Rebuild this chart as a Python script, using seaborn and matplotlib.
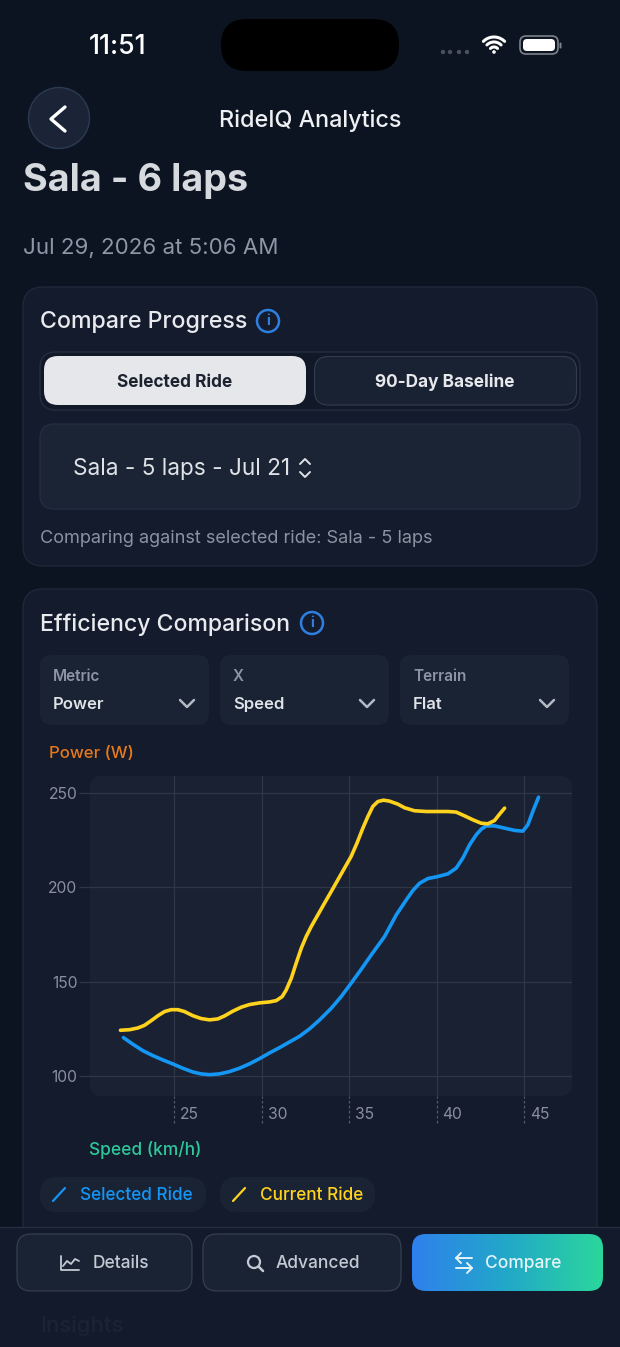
import numpy as np
import pandas as pd
import matplotlib
matplotlib.use("Agg")
import matplotlib.pyplot as plt
from matplotlib.patches import FancyBboxPatch, Circle
from matplotlib.transforms import ScaledTranslation
import seaborn as sns

selected_speed = [22.11, 22.65, 23.22, 23.79, 24.36, 24.93, 25.50, 26.08, 26.55, 27.03, 27.60, 28.17, 28.74,
                  29.31, 29.89, 30.46, 31.03, 31.60, 32.17, 32.74, 33.31, 33.98, 34.55, 35.12, 35.70, 36.27,
                  37.03, 37.70, 38.30, 38.65, 39.03, 39.50, 40.08, 40.65, 41.12, 41.50, 41.89, 42.27, 42.55,
                  42.84, 43.32, 43.89, 44.46, 44.93, 45.22, 45.50, 45.83]
selected_power = [120.3, 116.8, 113.4, 110.8, 108.5, 106.4, 104.1, 102.1, 101.1, 100.7, 101.1, 102.3, 104.1,
                  106.4, 109.2, 112.2, 115.0, 118.0, 121.0, 124.9, 129.6, 135.8, 142.0, 149.1, 156.5, 164.1,
                  173.8, 185.3, 193.6, 198.2, 202.0, 204.5, 205.6, 207.0, 210.0, 215.3, 222.4, 227.7, 230.6,
                  232.4, 232.4, 231.2, 230.0, 229.6, 233.0, 240.0, 247.6]
current_speed = [21.94, 22.46, 22.93, 23.31, 23.70, 24.08, 24.46, 24.84, 25.22, 25.60, 26.08, 26.55, 27.03,
                 27.50, 27.89, 28.36, 28.84, 29.31, 29.89, 30.46, 30.84, 31.18, 31.41, 31.70, 31.98, 32.27,
                 32.55, 32.84, 33.22, 33.60, 33.98, 34.36, 34.74, 35.12, 35.45, 35.79, 36.08, 36.36, 36.65,
                 36.97, 37.31, 37.79, 38.17, 38.74, 39.41, 40.08, 40.65, 41.12, 41.60, 42.08, 42.55, 42.93,
                 43.31, 43.60, 43.89]
current_power = [124.2, 124.5, 125.4, 126.8, 129.3, 131.9, 134.1, 135.1, 135.1, 134.1, 131.9, 130.4, 129.7,
                 130.2, 131.8, 134.3, 136.4, 137.8, 138.7, 139.2, 139.9, 142.0, 145.5, 151.7, 159.7, 167.6,
                 173.8, 179.1, 185.3, 191.5, 197.6, 203.8, 210.0, 216.2, 223.2, 231.2, 237.4, 242.7, 245.3,
                 246.0, 245.5, 243.9, 242.0, 240.4, 240.0, 240.0, 240.0, 239.7, 237.7, 235.6, 233.8, 233.5,
                 235.2, 238.6, 241.8]
x_ticks = [25, 30, 35, 40, 45]
y_ticks = [100, 150, 200, 250]
series_names = ["Selected Ride", "Current Ride"]
series_colors = ["#1496f5", "#ffd21e"]

sns.set_theme(style="dark")
plt.rcParams["font.family"] = ["Inter", "DejaVu Sans"]

W, H = 620, 1347
fig = plt.figure(figsize=(W / 100, H / 100), dpi=100, facecolor="#0b1420")
bg = fig.add_axes([0, 0, 1, 1], facecolor="#0b1420")
bg.set_xlim(0, W)
bg.set_ylim(H, 0)
bg.axis("off")
bg.grid(False)


def box(x0, y0, x1, y1, r, fc, ec="none", lw=1.0, z=1):
    p = FancyBboxPatch((x0 + r, y0 + r), x1 - x0 - 2 * r, y1 - y0 - 2 * r,
                       boxstyle=f"round,pad={r},rounding_size={r}",
                       fc=fc, ec=ec, lw=lw, zorder=z)
    bg.add_patch(p)
    return p


def txt(x, y, s, size, color, weight="normal", ha="left", z=5):
    bg.text(x, y + 2.3, s, fontsize=size, color=color, fontweight=weight, ha=ha, va="center", zorder=z)


def stroke(xs, ys, color, lw=1.5, z=6):
    bg.plot(xs, ys, color=color, lw=lw, solid_capstyle="round", solid_joinstyle="round", zorder=z)


# status bar
txt(118, 45, "11:51", 19.3, "#ffffff", "medium", "center")
box(221, 19, 399, 71, 26, "#000000")
for px in [443, 450, 459, 467]:
    bg.add_patch(Circle((px, 52), 2.2, fc="#4a505a", ec="none", zorder=5))
for r, a in [(15, 1), (10, 1), (5, 1)]:
    th = np.linspace(np.radians(225), np.radians(315), 20)
    stroke(494 + r * np.cos(th), 52 + r * np.sin(th), "#ffffff", 2.2)
bg.add_patch(Circle((494, 52), 1.8, fc="#ffffff", ec="none", zorder=6))
box(520, 36, 558, 54, 6, "none", "#7d828b", 1.2, 5)
box(523, 39, 555, 51, 4, "#ffffff", z=6)
box(559.5, 42.5, 561.5, 48.5, 1, "#7d828b", z=5)

# header
bg.add_patch(Circle((59, 118), 30.5, fc="#1a2436", ec="#2c3a52", lw=1, zorder=3))
stroke([65, 51, 65], [107, 119, 131], "#ffffff", 2.4)
txt(310, 118, "RideIQ Analytics", 16.8, "#eef0f3", "medium", "center")
txt(23, 179, "Sala - 6 laps", 27.2, "#d6d9de", "bold")
txt(23, 246, "Jul 29, 2026 at 5:06 AM", 16.05, "#8d97a6")

# compare progress card
card_c = "#131b2c"
card_e = "#1f2839"
box(23, 287, 597, 566, 20, card_c, card_e)
txt(40, 320, "Compare Progress", 16.7, "#e8eaee", "medium")


def info(cx, cy):
    bg.add_patch(Circle((cx, cy), 11, fc="none", ec="#2f7fe0", lw=1.8, zorder=5))
    txt(cx, cy - 2.3, "i", 10.5, "#2f7fe0", "bold", "center")


info(268, 321)
box(40, 352, 580, 410, 16, "#111827", "#252e40")
box(44, 356, 306, 405, 14, "#e6e7eb")
box(314.5, 356.5, 576.5, 405, 14, "#192233", "#343d50", 0.8)
txt(175, 380, "Selected Ride", 12.4, "#1c2230", "bold", "center")
txt(445, 380, "90-Day Baseline", 12.4, "#e6e8ec", "bold", "center")
box(40, 424, 580, 509, 14, "#1a2435", "#232d3f")
txt(73, 467, "Sala - 5 laps - Jul 21", 16.25, "#dfe2e7")
stroke([300, 305, 310], [464, 459, 464], "#dfe2e7", 1.4)
stroke([300, 305, 310], [472, 477, 472], "#dfe2e7", 1.4)
txt(40, 536, "Comparing against selected ride: Sala - 5 laps", 13.05, "#8b93a1")

# efficiency card
box(23, 589, 597, 1300, 20, card_c, card_e)
txt(40, 622, "Efficiency Comparison", 16.6, "#e8eaee", "medium")
info(312, 623)
for x0, x1, a, b in [(40, 209, "Metric", "Power"), (220, 389, "X", "Speed"), (400, 569, "Terrain", "Flat")]:
    box(x0, 655, x1, 725, 11, "#1a2334")
    txt(x0 + 13, 674, a, 11, "#8d95a5", "semibold")
    txt(x0 + 13, 702, b, 12, "#dfe2e7", "semibold")
    stroke([x1 - 29, x1 - 22, x1 - 15], [700, 707, 700], "#b4bac4", 1.8)

txt(49, 751, "Power (W)", 12.1, "#e8791a", "medium")
txt(89, 1148, "Speed (km/h)", 12.5, "#2fc79a", "medium")
box(90, 776, 572, 1096, 11, "#1a2132", z=2)

# legend chips
box(40, 1177, 206, 1212, 17, "#1a2334")
stroke([53, 65], [1201, 1188], series_colors[0], 1.6)
txt(80, 1193, series_names[0], 12.4, series_colors[0], "medium")
box(220, 1177, 375, 1212, 17, "#1a2334")
stroke([233, 245], [1201, 1188], series_colors[1], 1.6)
txt(260, 1193, series_names[1], 12.4, series_colors[1], "medium")

# bottom bar
bg.add_patch(plt.Rectangle((0, 1227), W, H - 1227, fc="#131a2b", ec="none", zorder=8))
stroke([0, W], [1226.5, 1226.5], "#252d3e", 1.0, 9)
box(17, 1234, 192, 1291, 14, "#1a2333", "#3a4252", 0.8, 9)
box(203, 1234, 401, 1291, 14, "#1a2333", "#3a4252", 0.8, 9)
txt(121, 1261, "Details", 12.5, "#c4cad4", "medium", "center", 10)
txt(318, 1261, "Advanced", 12.5, "#c4cad4", "medium", "center", 10)
stroke([61, 61, 79], [1256, 1270, 1270], "#c4cad4", 1.3, 10)
stroke([63, 67, 71, 75, 79], [1266, 1261, 1264, 1259, 1261], "#c4cad4", 1.3, 10)
bg.add_patch(Circle((254, 1262), 6, fc="none", ec="#c4cad4", lw=1.6, zorder=10))
stroke([258.5, 263], [1266.5, 1271], "#c4cad4", 1.8, 10)

btn = box(412, 1234, 603, 1291, 14, "none", z=9)
grad = np.linspace(0, 1, 256).reshape(1, -1)
cm = matplotlib.colors.LinearSegmentedColormap.from_list("g", ["#2f80ed", "#22a8c8", "#2bd79c"])
im = bg.imshow(grad, extent=(412, 603, 1291, 1234), cmap=cm, aspect="auto", zorder=9)
im.set_clip_path(btn)
bg.set_xlim(0, W)
bg.set_ylim(H, 0)
txt(523, 1261, "Compare", 12.5, "#e4f4f8", "medium", "center", 10)
stroke([456, 472], [1258, 1258], "#e4f4f8", 1.4, 10)
stroke([461, 456, 461], [1253, 1258, 1263], "#e4f4f8", 1.4, 10)
stroke([456, 472], [1268, 1268], "#e4f4f8", 1.4, 10)
stroke([467, 472, 467], [1263, 1268, 1273], "#e4f4f8", 1.4, 10)
txt(40, 1323, "Insights", 16, "#1b2334", "medium", z=10)

# chart
ax = fig.add_axes([90 / W, 1 - 1096 / H, 482 / W, 320 / H], facecolor="none", zorder=3)
df = pd.concat([
    pd.DataFrame({"speed": selected_speed, "power": selected_power, "ride": series_names[0]}),
    pd.DataFrame({"speed": current_speed, "power": current_power, "ride": series_names[1]}),
])
sns.lineplot(data=df, x="speed", y="power", hue="ride", palette=dict(zip(series_names, series_colors)),
             sort=False, estimator=None, lw=2.6, legend=False, ax=ax, zorder=4,
             solid_joinstyle="round", solid_capstyle="round")
ax.set_xlim(20.2, 47.74)
ax.set_ylim(89.4, 258.8)
ax.set_xlabel("")
ax.set_ylabel("")
for s in ax.spines.values():
    s.set_visible(False)
ax.set_xticks(x_ticks)
ax.set_yticks(y_ticks)
ax.grid(True, color="#2e3647", lw=0.9)
ax.tick_params(axis="x", length=0, pad=8, labelsize=11.3, labelcolor="#8a8f9c", bottom=True)
ax.tick_params(axis="y", length=8, width=0.9, color="#2e3647", pad=1, labelsize=11.3, labelcolor="#8a8f9c", left=True)
ax.vlines(x_ticks, -27 / 320, 0, transform=ax.get_xaxis_transform(), clip_on=False,
          colors="#525a6a", lw=0.9, linestyles=[(0, (2.2, 1.8))])
off = ScaledTranslation(6 / 100, 0, fig.dpi_scale_trans)
for tick in ax.xaxis.get_major_ticks():
    tick.label1.set_ha("left")
    tick.label1.set_transform(tick.label1.get_transform() + off)

fig.savefig("out.png", dpi=100, facecolor=fig.get_facecolor())
